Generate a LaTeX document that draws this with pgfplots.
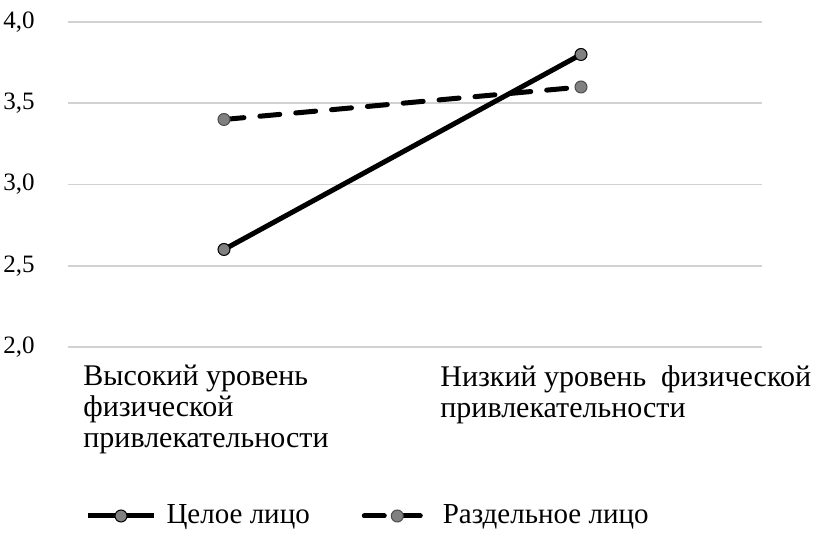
\documentclass[border=0pt]{standalone}
\usepackage{fontspec}
\setmainfont{Liberation Serif}
\usepackage{pgfplots}
\pgfplotsset{compat=1.18}
\begin{document}
\begin{tikzpicture}[x=1pt,y=1pt]
\useasboundingbox (0,0) rectangle (413,272);
\begin{axis}[
  at={(34pt,98.5pt)}, anchor=south west,
  scale only axis, width=347pt, height=162.5pt,
  xmin=-0.437, xmax=1.507, ymin=2, ymax=4,
  axis line style={draw=none},
  major tick length=0pt,
  ytick={2,2.5,3,3.5,4},
  ymajorgrids, grid style={gray!35, line width=0.8pt},
  xtick={0,1},
  xticklabels={{Высокий уровень\\[0.8pt]физической\\[0.8pt]привлекательности},{Низкий уровень~~физической\\[0.8pt]привлекательности}},
  font=\fontsize{12.5}{14}\selectfont,
  xticklabel style={anchor=north west, inner sep=0pt, align=left, xshift=-70.5pt, yshift=-9pt, font=\fontsize{15}{14.6}\selectfont},
  yticklabel style={anchor=east, inner sep=0pt, xshift=-16.5pt, /pgf/number format/.cd, fixed, fixed zerofill, precision=1, use comma, assume math mode=true},
  legend columns=2,
  legend style={draw=none, at={(0.016,-0.52)}, anchor=west, font=\fontsize{14.5}{15}\selectfont,
     /tikz/every odd column/.append style={column sep=3pt},
     /tikz/every even column/.append style={column sep=24pt}},
  legend cell align=left,
  legend image code/.code={\draw[mark repeat=2,mark phase=2,#1] plot coordinates {(0pt,0pt) (16.5pt,0pt) (33pt,0pt)};},
]
\addplot[black, line width=2.5pt, mark=*, mark size=3pt, mark options={solid, fill=gray, draw=black, line width=0.5pt}]
  coordinates {(0,2.6) (1,3.8)};
\addlegendentry{Целое лицо}
\addplot[black, line width=2.5pt, dash pattern=on 10pt off 8pt, line cap=round, mark=*, mark size=3pt, mark options={solid, fill=gray, draw=gray!60!black, line width=0.5pt}]
  coordinates {(0,3.4) (1,3.6)};
\addlegendentry{Раздельное лицо}
\end{axis}
\end{tikzpicture}
\end{document}
